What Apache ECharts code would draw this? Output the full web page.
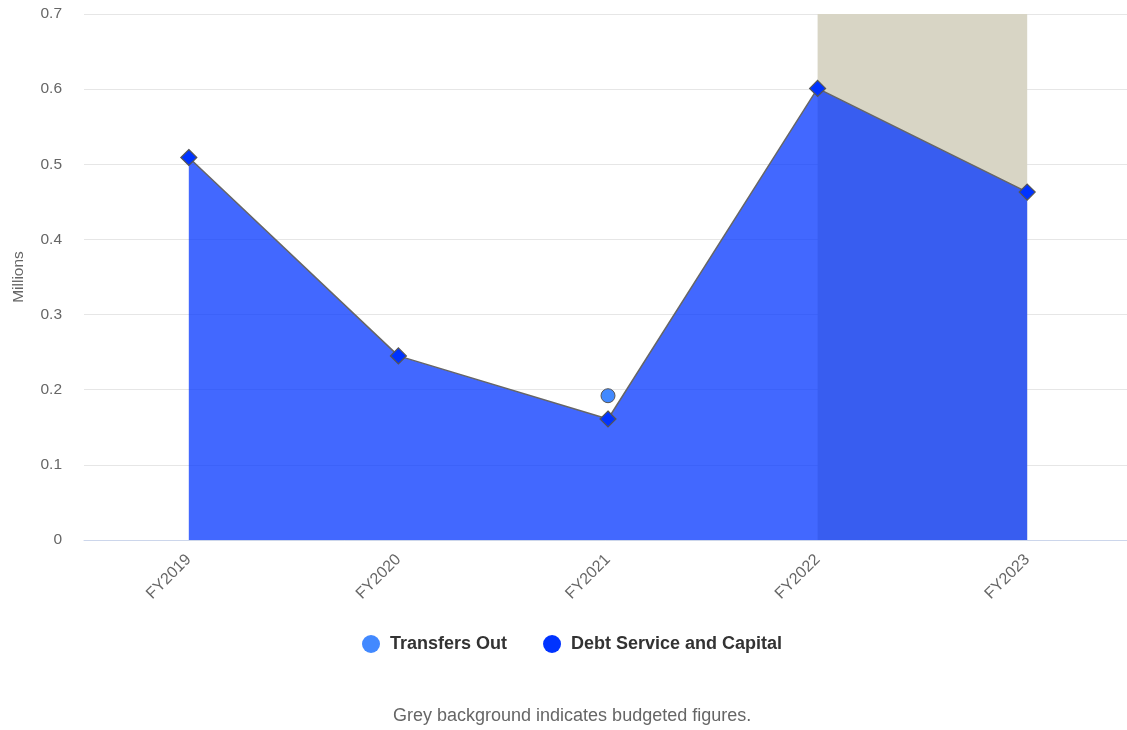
<!DOCTYPE html>
<html>
<head>
<meta charset="utf-8">
<script src="https://cdn.jsdelivr.net/npm/echarts@6/dist/echarts.min.js"></script>
<style>
html,body{margin:0;padding:0;background:#fff;}
#chart{width:1127px;height:730px;}
</style>
</head>
<body>
<div id="chart"></div>
<script>
const categories = ['FY2019', 'FY2020', 'FY2021', 'FY2022', 'FY2023'];
const debtService = [0.509, 0.245, 0.161, 0.601, 0.463];
const transfersOut = [null, null, 0.192, null, null];
const yTicks = [0, 0.1, 0.2, 0.3, 0.4, 0.5, 0.6, 0.7];
const budgetStart = 'FY2022';
const budgetEnd = 'FY2023';

const FONT = "'Liberation Sans', Arial, sans-serif";
const chart = echarts.init(document.getElementById('chart'));
chart.setOption({
  animation: false,
  textStyle: { fontFamily: FONT },
  grid: { left: 84, top: 14, right: -5, bottom: 190, containLabel: false, outerBoundsMode: 'none' },
  legend: {
    top: 630, left: 357,
    icon: 'circle', itemWidth: 20, itemHeight: 18, itemGap: 36,
    itemStyle: { borderWidth: 0 },
    textStyle: { fontSize: 18, fontWeight: 'bold', color: '#333', fontFamily: FONT, padding: [0, 0, 0, 4] },
    data: ['Transfers Out', 'Debt Service and Capital']
  },
  graphic: [{
    type: 'text', left: 393, top: 707,
    style: { text: 'Grey background indicates budgeted figures.', fill: '#666', fontSize: 18, fontFamily: FONT }
  }],
  xAxis: {
    type: 'category', data: categories, boundaryGap: true,
    axisLine: { lineStyle: { color: '#ccd6eb' } },
    axisTick: { show: false },
    axisLabel: { rotate: 45, color: '#666', fontSize: 16, margin: 17, fontFamily: FONT }
  },
  yAxis: {
    type: 'value', min: yTicks[0], max: yTicks[yTicks.length - 1], interval: 0.1,
    name: 'Millions', nameLocation: 'middle', nameGap: 57, nameRotate: 90,
    nameTextStyle: { color: '#666', fontSize: 15.5, fontFamily: FONT },
    axisLine: { show: false }, axisTick: { show: false },
    axisLabel: { color: '#666', fontSize: 15.5, margin: 22, fontFamily: FONT },
    splitLine: { lineStyle: { color: '#e6e6e6' } }
  },
  series: [
    {
      name: 'Transfers Out', type: 'scatter', data: transfersOut, z: 1,
      symbol: 'circle', symbolSize: 14,
      itemStyle: { color: '#4289ff', opacity: 1, borderColor: '#555', borderWidth: 1 },
      markArea: {
        silent: true,
        itemStyle: { color: '#d8d5c5' },
        data: [[{ xAxis: budgetStart, yAxis: yTicks[yTicks.length - 1] }, { xAxis: budgetEnd, yAxis: 0 }]]
      }
    },
    {
      name: 'Debt Service and Capital', type: 'line', data: debtService, z: 2,
      symbol: 'diamond', symbolSize: 16,
      itemStyle: { color: '#0033ff', borderColor: '#555', borderWidth: 1.2 },
      lineStyle: { color: '#666', width: 1.5 },
      areaStyle: { color: '#0033ff', opacity: 0.74 }
    }
  ]
});
</script>
</body>
</html>
